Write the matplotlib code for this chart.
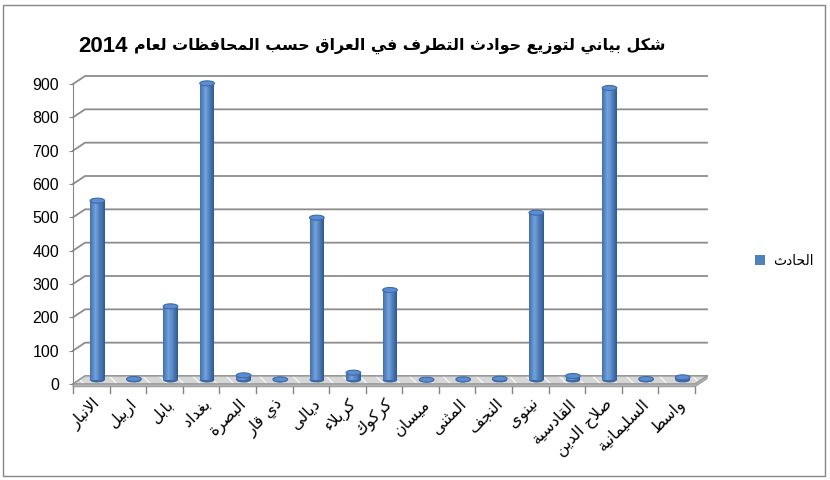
import numpy as np
import matplotlib
matplotlib.use('Agg')
import matplotlib.pyplot as plt
from matplotlib.patches import Ellipse, Polygon, Rectangle, Patch
from matplotlib.colors import to_rgb

# ========================
# data
# ========================
governorates = ['الانبار', 'اربيل', 'بابل', 'بغداد', 'البصرة', 'ذي قار', 'ديالى',
                'كربلاء', 'كركوك', 'ميسان', 'المثنى', 'النجف', 'نينوى',
                'القادسية', 'صلاح الدين', 'السليمانية', 'واسط']
incidents = [538, 3, 221, 890, 14, 2, 487, 22, 270, 1, 2, 4, 502, 12, 876, 3, 8]
y_ticks = [0, 100, 200, 300, 400, 500, 600, 700, 800, 900]
series_name = 'الحادث'
title_ar = 'شكل بياني لتوزيع حوادث التطرف في العراق حسب المحافظات لعام'
title_year = '2014'

# ========================
# tiny arabic shaper (no arabic_reshaper / bidi available)
# forms: isolated, final, initial, medial
# ========================
FORMS = {
    'ء': ('\uFE80', None, None, None),
    'آ': ('\uFE81', '\uFE82', None, None),
    'أ': ('\uFE83', '\uFE84', None, None),
    'إ': ('\uFE87', '\uFE88', None, None),
    'ا': ('\uFE8D', '\uFE8E', None, None),
    'ب': ('\uFE8F', '\uFE90', '\uFE91', '\uFE92'),
    'ة': ('\uFE93', '\uFE94', None, None),
    'ت': ('\uFE95', '\uFE96', '\uFE97', '\uFE98'),
    'ث': ('\uFE99', '\uFE9A', '\uFE9B', '\uFE9C'),
    'ج': ('\uFE9D', '\uFE9E', '\uFE9F', '\uFEA0'),
    'ح': ('\uFEA1', '\uFEA2', '\uFEA3', '\uFEA4'),
    'خ': ('\uFEA5', '\uFEA6', '\uFEA7', '\uFEA8'),
    'د': ('\uFEA9', '\uFEAA', None, None),
    'ذ': ('\uFEAB', '\uFEAC', None, None),
    'ر': ('\uFEAD', '\uFEAE', None, None),
    'ز': ('\uFEAF', '\uFEB0', None, None),
    'س': ('\uFEB1', '\uFEB2', '\uFEB3', '\uFEB4'),
    'ش': ('\uFEB5', '\uFEB6', '\uFEB7', '\uFEB8'),
    'ص': ('\uFEB9', '\uFEBA', '\uFEBB', '\uFEBC'),
    'ض': ('\uFEBD', '\uFEBE', '\uFEBF', '\uFEC0'),
    'ط': ('\uFEC1', '\uFEC2', '\uFEC3', '\uFEC4'),
    'ظ': ('\uFEC5', '\uFEC6', '\uFEC7', '\uFEC8'),
    'ع': ('\uFEC9', '\uFECA', '\uFECB', '\uFECC'),
    'غ': ('\uFECD', '\uFECE', '\uFECF', '\uFED0'),
    'ف': ('\uFED1', '\uFED2', '\uFED3', '\uFED4'),
    'ق': ('\uFED5', '\uFED6', '\uFED7', '\uFED8'),
    'ك': ('\uFED9', '\uFEDA', '\uFEDB', '\uFEDC'),
    'ل': ('\uFEDD', '\uFEDE', '\uFEDF', '\uFEE0'),
    'م': ('\uFEE1', '\uFEE2', '\uFEE3', '\uFEE4'),
    'ن': ('\uFEE5', '\uFEE6', '\uFEE7', '\uFEE8'),
    'ه': ('\uFEE9', '\uFEEA', '\uFEEB', '\uFEEC'),
    'و': ('\uFEED', '\uFEEE', None, None),
    'ى': ('\uFEEF', '\uFEF0', None, None),
    'ي': ('\uFEF1', '\uFEF2', '\uFEF3', '\uFEF4'),
    'لآ': ('\uFEF5', '\uFEF6', None, None),
    'لأ': ('\uFEF7', '\uFEF8', None, None),
    'لإ': ('\uFEF9', '\uFEFA', None, None),
    'لا': ('\uFEFB', '\uFEFC', None, None),
}


def shape(text):
    # merge lam-alef
    units = []
    i = 0
    while i < len(text):
        if text[i] == 'ل' and i + 1 < len(text) and text[i + 1] in 'اأإآ':
            units.append(text[i:i + 2])
            i += 2
        else:
            units.append(text[i])
            i += 1
    out = []
    for k, u in enumerate(units):
        if u not in FORMS:
            out.append(u)
            continue
        iso, fin, ini, med = FORMS[u]
        prev = units[k - 1] if k > 0 else None
        nxt = units[k + 1] if k + 1 < len(units) else None
        join_prev = prev in FORMS and FORMS[prev][2] is not None and fin is not None
        join_next = nxt in FORMS and FORMS[nxt][1] is not None and ini is not None
        if join_prev and join_next:
            out.append(med)
        elif join_prev:
            out.append(fin)
        elif join_next:
            out.append(ini)
        else:
            out.append(iso)
    return ''.join(reversed(out))


# ========================
# figure / axes
# ========================
plt.rcParams['font.family'] = ['Liberation Sans', 'DejaVu Sans']
W, H = 830, 480
fig = plt.figure(figsize=(W / 100, H / 100), dpi=100)
n = len(governorates)
dx = 0.33      # depth offset in category units
dy = 24        # depth offset in value units
ymax = 930
# x=0 at px 73, x=n+dx at px 707 ; y=0 at px 384, y=ymax at px 74
ax = fig.add_axes([73 / W, (H - 384) / H, 634 / W, 310 / H])
ax.set_xlim(0, n + dx)
ax.set_ylim(0, ymax)
ax.patch.set_visible(False)
for s in ['top', 'right', 'bottom']:
    ax.spines[s].set_visible(False)
ax.spines['left'].set_bounds(0, y_ticks[-1])
ax.spines['left'].set_color('#868686')
ax.set_xticks([])
ax.set_yticks(y_ticks)
ax.tick_params(axis='y', length=3, color='#868686', labelsize=11.5, pad=7)

grid_c = '#8c8c8c'
for v in y_ticks:
    ax.plot([0, dx, n + dx], [v, v + dy, v + dy], color=grid_c, lw=1.3, zorder=1,
            clip_on=False)

# floor
floor = Polygon([(0, 0), (n, 0), (n + dx, dy), (dx, dy)], closed=True,
                facecolor='#d6d6d6', hatch='\\\\', lw=0, zorder=2, clip_on=False)
floor.set_edgecolor('#f6f6f6')
ax.add_patch(floor)
ax.add_patch(Polygon([(0, 0), (n, 0), (n + dx, dy), (dx, dy)], closed=True,
                     fill=False, edgecolor='#9a9a9a', lw=1, zorder=2, clip_on=False))
ax.add_patch(Polygon([(0, 0), (n, 0), (n + dx, dy), (n + dx, dy - 8), (n, -8), (0, -8)],
                     closed=True, facecolor='#b4b4b4', edgecolor='#9a9a9a', lw=0.8,
                     zorder=2, clip_on=False))
# category tick marks below floor
for k in range(n + 1):
    ax.plot([k, k], [-9, -27], color='#868686', lw=1, clip_on=False, zorder=2)

# cylinders
bw = 0.40
eh = 15
strips = 14
dark = np.array(to_rgb('#2c5790'))
light = np.array(to_rgb('#72a2de'))
offs = (np.arange(strips) + 0.5) / strips
prof = np.clip(1 - np.abs(offs - 0.4) / 0.62, 0, 1) ** 1.1
strip_cols = [dark + (light - dark) * p for p in prof]
for i, v in enumerate(incidents):
    cx = i + 0.5 + dx / 2
    base = dy / 2
    ax.add_patch(Ellipse((cx, base), bw, eh, facecolor='#3a69a8', edgecolor='none',
                         zorder=3))
    xs = cx - bw / 2 + offs * bw
    ax.bar(xs, [v] * strips, bottom=base, width=bw / strips, color=strip_cols,
           linewidth=0, zorder=4)
    ax.add_patch(Ellipse((cx, base + v), bw, eh, facecolor='#5b8dd0',
                         edgecolor='#3d6aa8', lw=0.8, zorder=5))

# category labels
for i, name in enumerate(governorates):
    ax.text(i + 0.68, -52, shape(name), rotation=45, rotation_mode='anchor',
            ha='right', va='center', fontsize=11.5, family=['DejaVu Sans'],
            clip_on=False)

# title: arabic part right-aligned, year placed to its left (RTL order)
t_ar = fig.text(665 / W, 1 - 46 / H, shape(title_ar), ha='right', va='center',
                fontsize=11.4, fontweight='bold', family=['DejaVu Sans'])
fig.canvas.draw()
bb = t_ar.get_window_extent()
fig.text((bb.x0 - 6) / W, 1 - 46 / H, title_year, ha='right', va='center',
         fontsize=16, fontweight='bold', family=['Liberation Sans'])

# legend
ax.legend(handles=[Patch(facecolor='#4f81bd', edgecolor='none')],
          labels=[shape(series_name)], loc='center left',
          bbox_to_anchor=(742 / W, 1 - 261 / H), bbox_transform=fig.transFigure,
          frameon=False, handlelength=0.75, handleheight=0.75, handletextpad=0.6,
          prop={'family': 'DejaVu Sans', 'size': 10})

# outer border
fig.add_artist(Rectangle((3 / W, 4 / H), 822 / W, 471 / H, transform=fig.transFigure,
                         fill=False, edgecolor='#868686', lw=1))

fig.savefig('out.png', dpi=100)
